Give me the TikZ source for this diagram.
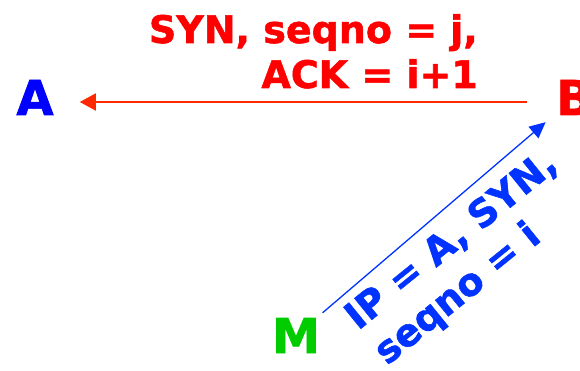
\documentclass[tikz,border=0pt]{standalone}
\usepackage{fontspec}
\setmainfont{DejaVu Sans}[BoldFeatures={FakeBold=1.4}]
\usetikzlibrary{arrows.meta}
\definecolor{hostblue}{RGB}{0,0,255}
\definecolor{msgblue}{RGB}{0,51,255}
\definecolor{msgred}{RGB}{255,0,0}
\definecolor{linkred}{RGB}{255,40,0}
\definecolor{hostgreen}{RGB}{0,204,0}
\begin{document}
\begin{tikzpicture}[x=1pt,y=-1pt,
  host/.style={inner sep=0pt, font=\fontsize{48}{56}\selectfont\bfseries},
  msg/.style={inner sep=0pt, font=\fontsize{38}{45}\selectfont\bfseries},
  replyarrow/.style={draw=linkred, line width=1.6pt, -{Triangle[length=16pt,width=17pt]}},
  spoofarrow/.style={draw=msgblue, line width=1.3pt, -{Triangle[length=16pt,width=15pt]}}]
  \useasboundingbox (0,0) rectangle (580,371);

  % hosts
  \node[host, text=hostblue, anchor=base] (A) at (35,115) {A};
  \node[host, text=msgred, anchor=base west] (B) at (556,115) {B};
  \node[host, text=hostgreen, anchor=base] (M) at (296,353) {M};

  % B answers A with SYN/ACK
  \draw[replyarrow, shorten <=29pt, shorten >=26pt]
    ([yshift=-4.5pt]B.west) -- ([yshift=-4.5pt]A.east);
  \node[msg, text=msgred, anchor=base east] (synj) at (478,43) {SYN, seqno = j,};
  \node[msg, text=msgred, anchor=base east] (acki) at (478,88) {ACK = i+1};

  % M sends a spoofed SYN to B
  \draw[spoofarrow, shorten <=35pt, shorten >=38pt] (M.center) -- (B.center);
  \node[msg, text=msgblue, anchor=base west, rotate=39] (ipa) at (358,331) {IP = A, SYN,};
  \node[msg, text=msgblue, anchor=base west, rotate=39] (seqi) at (387,366) {seqno = i};
\end{tikzpicture}
\end{document}
